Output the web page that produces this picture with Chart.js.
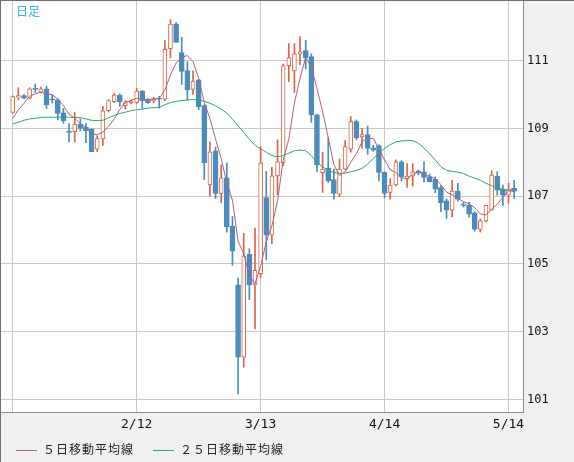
<!DOCTYPE html>
<html lang="ja">
<head>
<meta charset="utf-8">
<script src="https://cdn.jsdelivr.net/npm/chart.js@4"></script>
<style>
  body { margin: 0; background: #f0f0f0; }
  #wrap { position: relative; width: 574px; height: 462px; }
  #title { position: absolute; left: 16px; top: 2px; font: 12px "Noto Sans CJK JP"; color: #3cb0e4; }
  .legend { position: absolute; top: 440px; height: 16px; line-height: 16px; font: 12px "Noto Sans CJK JP"; letter-spacing: 1px; color: #222; white-space: nowrap; }
  .legend i { display: inline-block; width: 21px; height: 1px; vertical-align: middle; margin-right: 6px; }
</style>
</head>
<body>
<div id="wrap">
  <canvas id="chart" width="574" height="462"></canvas>
  <div id="title">日足</div>
  <div class="legend" style="left:16px"><i style="background:#b06080"></i>５日移動平均線</div>
  <div class="legend" style="left:153px"><i style="background:#2aaa6e"></i>２５日移動平均線</div>
</div>
<script>
// daily candles, index 0 = first day shown
const opens = [
  109.47, 109.92, 109.97, 109.89, 110.18, 110.07, 110.17, 109.86, 109.84, 109.46,
  108.92, 108.90, 109.13, 109.03, 108.97, 108.39, 108.69, 109.52, 109.79, 109.98,
  109.67, 109.76, 109.77, 110.10, 109.86, 109.80, 109.88, 109.86, 111.35, 112.08,
  111.24, 110.71, 110.15, 110.43, 109.67, 107.33, 108.34, 107.08, 107.54, 106.12,
  104.38, 102.25, 105.28, 104.38, 104.71, 106.96, 105.85, 107.60, 107.98, 110.85,
  110.70, 111.19, 111.30, 111.12, 109.40, 107.69, 107.82, 107.49, 107.06, 107.80,
  108.39, 109.20, 108.75, 108.82, 108.43, 108.49, 107.70, 107.11, 107.33, 108.01,
  107.50, 107.59, 107.74, 107.72, 107.57, 107.50, 107.25, 106.86, 106.59, 107.15,
  106.75, 106.73, 106.51, 106.02, 106.27, 106.59, 107.59, 107.21, 107.03, 107.23
];
const highs = [
  109.96, 110.20, 110.00, 110.20, 110.31, 110.22, 110.24, 109.98, 109.88, 109.59,
  109.14, 109.48, 109.28, 109.14, 108.99, 108.78, 109.65, 109.85, 110.04, 110.02,
  109.82, 109.84, 110.18, 110.12, 109.88, 109.92, 109.95, 111.59, 112.21, 112.12,
  111.69, 110.97, 110.70, 110.45, 109.70, 108.60, 108.45, 107.92, 107.98, 106.40,
  104.58, 105.90, 105.45, 106.06, 108.46, 107.73, 107.85, 108.66, 110.90, 111.50,
  111.50, 111.71, 111.60, 111.20, 109.42, 108.29, 108.72, 107.80, 108.10, 108.64,
  109.35, 109.25, 109.00, 109.07, 108.50, 108.52, 107.72, 107.52, 108.07, 108.05,
  107.96, 107.96, 107.77, 108.01, 107.65, 107.57, 107.32, 106.92, 107.47, 107.38,
  106.82, 106.82, 106.54, 106.33, 106.73, 107.75, 107.72, 107.33, 107.38, 107.47
];
const lows = [
  109.45, 109.84, 109.87, 109.87, 110.06, 110.05, 109.59, 109.75, 109.25, 109.15,
  108.60, 108.60, 108.93, 108.58, 108.31, 108.31, 108.50, 109.48, 109.76, 109.65,
  109.57, 109.72, 109.74, 109.59, 109.74, 109.75, 109.60, 109.82, 111.09, 111.54,
  110.30, 109.84, 110.00, 109.55, 107.49, 107.00, 106.93, 106.81, 105.94, 104.96,
  101.16, 101.95, 103.95, 103.08, 104.60, 105.12, 105.60, 107.04, 107.90, 110.38,
  110.06, 110.88, 110.76, 109.18, 107.72, 107.11, 107.40, 106.91, 106.98, 107.78,
  108.30, 108.66, 108.41, 108.24, 108.32, 107.45, 106.95, 106.91, 107.30, 107.45,
  107.26, 107.30, 107.63, 107.42, 107.42, 107.10, 106.54, 106.34, 106.39, 106.85,
  106.68, 106.38, 105.97, 105.94, 106.24, 106.59, 107.03, 106.73, 106.79, 106.93
];
const closes = [
  109.94, 109.97, 109.89, 110.17, 110.15, 110.17, 109.69, 109.84, 109.44, 109.23,
  108.88, 109.13, 109.00, 108.93, 108.31, 108.70, 109.52, 109.82, 109.99, 109.78,
  109.76, 109.80, 110.10, 109.82, 109.76, 109.86, 109.86, 111.33, 112.08, 111.54,
  110.68, 110.14, 110.40, 109.64, 107.98, 108.31, 107.08, 107.54, 106.09, 105.38,
  102.25, 105.23, 104.38, 104.81, 107.98, 105.85, 107.60, 108.01, 110.85, 111.09,
  111.20, 111.27, 111.09, 109.40, 107.92, 107.80, 107.45, 107.08, 107.80, 108.46,
  109.20, 108.73, 108.82, 108.41, 108.36, 107.70, 107.08, 107.33, 108.01, 107.57,
  107.59, 107.72, 107.69, 107.55, 107.42, 107.21, 106.81, 106.59, 107.15, 106.91,
  106.73, 106.47, 106.02, 106.27, 106.73, 107.62, 107.18, 107.03, 107.21, 107.15
];
const ma5 = [
  109.30, 109.55, 109.74, 109.95, 110.02, 110.07, 110.01, 110.00, 109.86, 109.67,
  109.42, 109.30, 109.14, 109.03, 108.85, 108.81, 108.89, 109.06, 109.27, 109.56,
  109.77, 109.83, 109.89, 109.85, 109.85, 109.87, 109.88, 110.13, 110.58, 110.93,
  111.10, 111.15, 110.97, 110.48, 109.77, 109.29, 108.68, 108.11, 107.40, 106.88,
  105.67, 105.30, 104.67, 104.41, 104.93, 105.65, 106.12, 106.85, 108.06, 108.68,
  109.75, 110.48, 111.10, 110.81, 110.18, 109.50, 108.73, 107.93, 107.61, 107.72,
  108.00, 108.25, 108.60, 108.72, 108.70, 108.40, 108.07, 107.78, 107.70, 107.54,
  107.52, 107.64, 107.72, 107.62, 107.59, 107.52, 107.34, 107.12, 107.04, 106.93,
  106.84, 106.77, 106.66, 106.48, 106.44, 106.62, 106.76, 106.97, 107.15, 107.24
];
const ma25 = [
  109.13, 109.18, 109.24, 109.28, 109.30, 109.32, 109.33, 109.33, 109.33, 109.33,
  109.33, 109.32, 109.32, 109.28, 109.24, 109.23, 109.24, 109.31, 109.38, 109.44,
  109.48, 109.52, 109.55, 109.57, 109.60, 109.61, 109.62, 109.70, 109.76, 109.80,
  109.82, 109.84, 109.85, 109.84, 109.80, 109.74, 109.67, 109.57, 109.45, 109.27,
  109.08, 108.88, 108.68, 108.50, 108.40, 108.30, 108.20, 108.16, 108.20, 108.27,
  108.34, 108.36, 108.34, 108.20, 108.00, 107.87, 107.76, 107.70, 107.67, 107.68,
  107.72, 107.76, 107.82, 107.95, 108.11, 108.27, 108.41, 108.52, 108.60, 108.63,
  108.64, 108.64, 108.56, 108.42, 108.25, 108.07, 107.87, 107.76, 107.73, 107.71,
  107.67, 107.59, 107.53, 107.47, 107.38, 107.31, 107.24, 107.20, 107.16, 107.14
];
// date ticks on the time axis (day index -> label)
const tickIndex = [0, 22, 44, 66, 88];
const tickLabels = ['', '2/12', '3/13', '4/14', '5/14'];
const yTicks = [101, 103, 105, 107, 109, 111];

const UP = '#dc6446';
const DOWN = '#4a8cbe';

const isUp = closes.map((c, i) => c >= opens[i]);
const wickColors = isUp.map(u => (u ? UP : DOWN));

// hollow up bodies and filled down bodies as separate datasets
const upBodies = opens.map((o, i) => (isUp[i] ? { x: i, y: [o, closes[i]] } : null)).filter(Boolean);
const downBodies = opens.map((o, i) => (isUp[i] ? null : { x: i, y: [o, closes[i]] })).filter(Boolean);

// white plot background + frame
const framePlugin = {
    id: 'frame',
    beforeDraw(chart) {
        const { ctx, chartArea: a } = chart;
        ctx.save();
        ctx.fillStyle = '#ffffff';
        ctx.fillRect(a.left, a.top, a.right - a.left, a.bottom - a.top);
        ctx.restore();
    },
    afterDraw(chart) {
        const { ctx, chartArea: a } = chart;
        ctx.save();
        ctx.strokeStyle = '#8a8a8a';
        ctx.lineWidth = 1;
        ctx.strokeRect(0.5, 0.5, a.right, a.bottom);
        ctx.strokeStyle = '#6e6e6e';
        ctx.beginPath();
        ctx.moveTo(0.5, 0);
        ctx.lineTo(0.5, chart.height);
        ctx.moveTo(0, 0.5);
        ctx.lineTo(chart.width, 0.5);
        ctx.stroke();
        ctx.restore();
    }
};

new Chart(document.getElementById('chart'), {
    type: 'bar',
    data: {
        datasets: [
            {
                type: 'line',
                label: '５日移動平均線',
                data: ma5.map((v, i) => ({ x: i, y: v })),
                borderColor: '#b06080',
                borderWidth: 1,
                pointRadius: 0,
                tension: 0
            },
            {
                type: 'line',
                label: '２５日移動平均線',
                data: ma25.map((v, i) => ({ x: i, y: v })),
                borderColor: '#2aaa6e',
                borderWidth: 1,
                pointRadius: 0,
                tension: 0
            },
            {
                label: 'up',
                data: upBodies,
                backgroundColor: '#ffffff',
                borderColor: UP,
                borderWidth: 1,
                borderSkipped: false,
                barThickness: 4,
                minBarLength: 1,
                grouped: false
            },
            {
                label: 'down',
                data: downBodies,
                backgroundColor: DOWN,
                borderColor: DOWN,
                borderWidth: 1,
                borderSkipped: false,
                barThickness: 5,
                minBarLength: 1,
                grouped: false
            },
            {
                label: 'wick',
                data: lows.map((l, i) => ({ x: i, y: [l, highs[i]] })),
                backgroundColor: wickColors,
                borderWidth: 0,
                barThickness: 1,
                grouped: false
            }
        ]
    },
    options: {
        responsive: false,
        animation: false,
        layout: { padding: { left: 1, top: 1, right: 0, bottom: 0 } },
        plugins: {
            legend: { display: false },
            tooltip: { enabled: false }
        },
        scales: {
            x: {
                type: 'linear',
                min: -2.08,
                max: 90.57,
                offset: false,
                afterBuildTicks: scale => {
                    scale.ticks = tickIndex.map(v => ({ value: v }));
                },
                afterFit: scale => {
                    scale.height = 50;
                    scale.paddingLeft = 0;
                    scale.paddingRight = 0;
                },
                grid: { color: '#c8c8c8', drawTicks: false, offset: false },
                border: { display: false },
                ticks: {
                    autoSkip: false,
                    maxRotation: 0,
                    padding: 5,
                    color: '#111',
                    font: { family: 'DejaVu Sans Mono', size: 13 },
                    callback: v => tickLabels[tickIndex.indexOf(v)]
                }
            },
            y: {
                type: 'linear',
                position: 'right',
                min: 100.63,
                max: 112.76,
                afterBuildTicks: scale => {
                    scale.ticks = yTicks.map(v => ({ value: v }));
                },
                afterFit: scale => {
                    scale.width = 51;
                    scale.paddingTop = 0;
                    scale.paddingBottom = 0;
                },
                grid: { color: '#c8c8c8', drawTicks: false, offset: false },
                border: { display: false },
                ticks: {
                    padding: 4,
                    color: '#111',
                    font: { family: 'DejaVu Sans Mono', size: 12 },
                    callback: v => String(v)
                }
            }
        }
    },
    plugins: [framePlugin]
});
</script>
</body>
</html>
